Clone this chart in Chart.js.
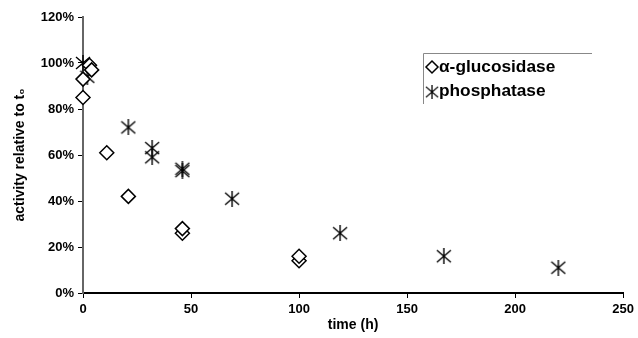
<!DOCTYPE html>
<html>
<head>
<meta charset="utf-8">
<script src="https://cdn.jsdelivr.net/npm/chart.js@4/dist/chart.umd.min.js"></script>
<style>
    html, body { margin: 0; padding: 0; background: #fff; }
    #wrap { width: 638px; height: 338px; position: relative; }
</style>
</head>
<body>
<div id="wrap"><canvas id="activityChart"></canvas></div>
<script>
// values (time in h, activity in % of t0)
const glucTime = [0, 0, 3, 4, 11, 21, 46, 46, 100, 100];
const glucActivity = [85, 93, 99, 97, 61, 42, 26, 28, 14, 16];
const phosTime = [0, 2, 21, 32, 32, 46, 46, 69, 119, 167, 220];
const phosActivity = [100, 94, 72, 63, 59, 54, 53, 41, 26, 16, 11];
const xTicks = [0, 50, 100, 150, 200, 250];
const yTicks = [0, 20, 40, 60, 80, 100, 120];
const seriesNames = ['\u03b1-glucosidase', 'phosphatase'];

const FONT = 'Liberation Sans, Arial, sans-serif';

function makeStar(size) {
    const c = document.createElement('canvas');
    c.width = size; c.height = size;
    const g = c.getContext('2d');
    g.strokeStyle = '#000';
    g.lineWidth = 1.4;
    g.beginPath();
    g.moveTo(1, 2); g.lineTo(size - 1, size - 2);
    g.moveTo(size - 1, 2); g.lineTo(1, size - 2);
    g.moveTo(size / 2, 0); g.lineTo(size / 2, size);
    g.stroke();
    return c;
}
const starImg = makeStar(16);

function toPoints(xs, ys) {
    return xs.map((x, i) => ({ x: x, y: ys[i] }));
}

// legend box drawn inside the plot, like the original (only top + left edge show)
const boxLegend = {
    id: 'boxLegend',
    afterDraw(chart) {
        const ctx = chart.ctx;
        ctx.save();
        ctx.strokeStyle = '#888';
        ctx.lineWidth = 1;
        ctx.beginPath();
        ctx.moveTo(423.5, 104); ctx.lineTo(423.5, 53.5); ctx.lineTo(592, 53.5);
        ctx.stroke();
        // diamond
        ctx.beginPath();
        ctx.moveTo(432, 61); ctx.lineTo(438, 67); ctx.lineTo(432, 73); ctx.lineTo(426, 67);
        ctx.closePath();
        ctx.fillStyle = '#fff';
        ctx.fill();
        ctx.strokeStyle = '#000';
        ctx.lineWidth = 1.5;
        ctx.stroke();
        ctx.drawImage(starImg, 425, 85, 14, 14);
        ctx.fillStyle = '#000';
        ctx.font = 'bold 16px ' + FONT;
        ctx.textBaseline = 'middle';
        ctx.translate(439, 0);
        ctx.scale(1.08, 1);
        ctx.fillText(seriesNames[0], 0, 68);
        ctx.fillText(seriesNames[1], 0, 92);
        ctx.restore();
    }
};

const ctx = document.getElementById('activityChart').getContext('2d');
const chart = new Chart(ctx, {
    type: 'scatter',
    data: {
        datasets: [{
            label: seriesNames[0],
            data: toPoints(glucTime, glucActivity),
            pointStyle: 'rectRot',
            pointRadius: 7,
            backgroundColor: '#fff',
            borderColor: '#000',
            borderWidth: 1.5,
            clip: false
        }, {
            label: seriesNames[1],
            data: toPoints(phosTime, phosActivity),
            pointStyle: starImg,
            pointRadius: 8,
            borderColor: '#000',
            clip: false
        }]
    },
    options: {
        responsive: true,
        maintainAspectRatio: false,
        animation: false,
        layout: { padding: { left: 8, top: 17, right: 12, bottom: 0 } },
        plugins: {
            legend: { display: false },
            tooltip: { enabled: false }
        },
        scales: {
            x: {
                type: 'linear',
                min: 0,
                max: 250,
                afterBuildTicks: s => { s.ticks = xTicks.map(v => ({ value: v })); },
                afterFit: s => { s.height = 45; },
                grid: { drawOnChartArea: false, drawTicks: true, tickLength: 5, color: '#000' },
                border: { display: true, color: '#000', width: 2 },
                ticks: { color: '#000', font: { family: FONT, size: 13, weight: 'bold' }, padding: 4 },
                title: {
                    display: true, text: 'time (h)', color: '#000',
                    font: { family: FONT, size: 14, weight: 'bold' }, padding: { top: 1 }
                }
            },
            y: {
                min: 0,
                max: 120,
                afterBuildTicks: s => { s.ticks = yTicks.map(v => ({ value: v })); },
                afterFit: s => { s.width = 75; },
                grid: { drawOnChartArea: false, drawTicks: true, tickLength: 5, color: '#000' },
                border: { display: true, color: '#666', width: 2 },
                ticks: {
                    color: '#000', font: { family: FONT, size: 13, weight: 'bold' }, padding: 4,
                    callback: v => v + '%'
                },
                title: {
                    display: true, text: 'activity relative to t\u2080', color: '#000',
                    font: { family: FONT, size: 14, weight: 'bold' }, padding: { bottom: 2 }
                }
            }
        }
    },
    plugins: [boxLegend]
});
</script>
</body>
</html>
